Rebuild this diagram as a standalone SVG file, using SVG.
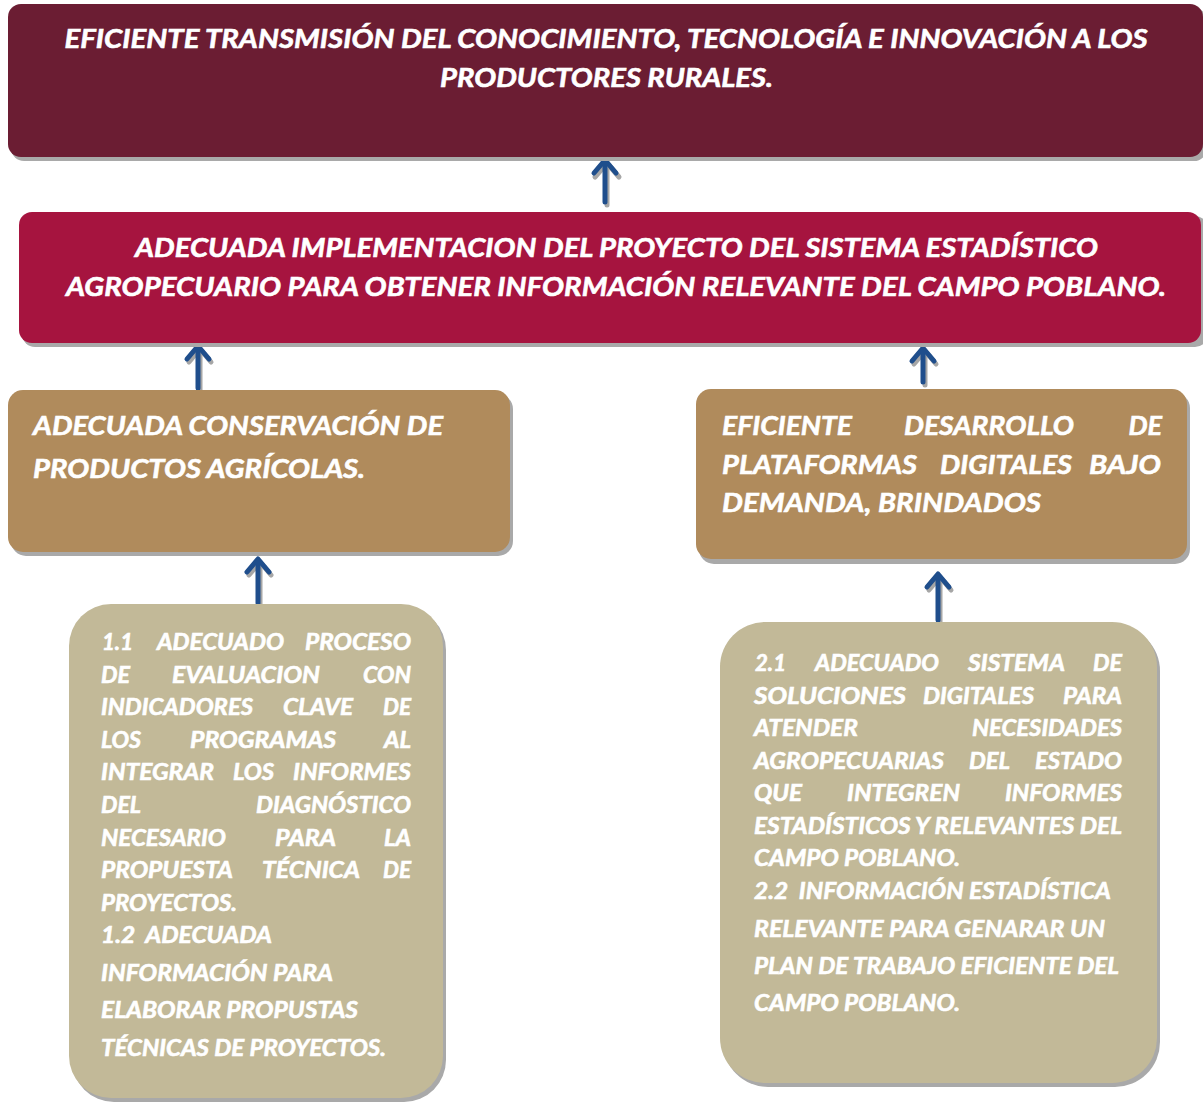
<svg xmlns="http://www.w3.org/2000/svg" width="1203" height="1103" viewBox="0 0 1203 1103">
<style>
text{font-family:Lato,"Open Sans","Liberation Sans",sans-serif;font-weight:bold;font-style:italic;fill:#FFFFFF;stroke:#FFFFFF;stroke-width:0.6px}
.big{font-size:27px}
.sm{font-size:22px}
.shadow{fill:#A9A9A9}
.arrow{fill:none;stroke:#1F4E8C;stroke-width:5;stroke-linecap:round;stroke-linejoin:round}
.arrowsh{fill:none;stroke:#A6A6A6;stroke-width:5;stroke-linecap:round;stroke-linejoin:round}
</style>
<g id="connectors">
<g><polyline class="arrowsh" points="595,177 607,163 619,177"/><line class="arrowsh" x1="607" y1="166" x2="607" y2="205"/>
<polyline class="arrow" points="594,173 605,160 616,173"/><line class="arrow" x1="605" y1="162" x2="605" y2="202"/></g>
<g><polyline class="arrowsh" points="189,362 200,349 211,362"/><line class="arrowsh" x1="200" y1="350" x2="200" y2="390"/>
<polyline class="arrow" points="187,359 198,346 209,359"/><line class="arrow" x1="198" y1="348" x2="198" y2="388"/></g>
<g><polyline class="arrowsh" points="914,364 925,351 936,364"/><line class="arrowsh" x1="925" y1="352" x2="925" y2="385"/>
<polyline class="arrow" points="912,361 923,348 934,361"/><line class="arrow" x1="923" y1="350" x2="923" y2="382"/></g>
<g><polyline class="arrowsh" points="249,575 260,562 271,575"/><line class="arrowsh" x1="260" y1="563" x2="260" y2="604"/>
<polyline class="arrow" points="247,572 258,559 269,572"/><line class="arrow" x1="258" y1="561" x2="258" y2="603"/></g>
<g><polyline class="arrowsh" points="929,590 940,577 951,590"/><line class="arrowsh" x1="940" y1="578" x2="940" y2="622"/>
<polyline class="arrow" points="927,587 938,574 949,587"/><line class="arrow" x1="938" y1="576" x2="938" y2="620"/></g>
</g>
<g id="node-fin">
<rect class="shadow" x="11" y="8" width="1196" height="153" rx="13"/>
<rect x="8" y="4" width="1195" height="153" rx="13" fill="#6B1D33"/>
<text class="big" x="606" y="48" text-anchor="middle" textLength="1083" lengthAdjust="spacingAndGlyphs">EFICIENTE TRANSMISIÓN DEL CONOCIMIENTO, TECNOLOGÍA E INNOVACIÓN A LOS</text>
<text class="big" x="440" y="87" textLength="333" lengthAdjust="spacingAndGlyphs">PRODUCTORES RURALES.</text>
</g>
<g id="node-proposito">
<rect class="shadow" x="22" y="216" width="1186" height="131" rx="13"/>
<rect x="19" y="212" width="1182" height="131" rx="13" fill="#A6143F"/>
<text class="big" x="135" y="257" textLength="963" lengthAdjust="spacingAndGlyphs">ADECUADA IMPLEMENTACION DEL PROYECTO DEL SISTEMA ESTADÍSTICO</text>
<text class="big" x="66" y="296" textLength="1100" lengthAdjust="spacingAndGlyphs">AGROPECUARIO PARA OBTENER INFORMACIÓN RELEVANTE DEL CAMPO POBLANO.</text>
</g>
<g id="node-componente1">
<rect class="shadow" x="11" y="394" width="502" height="162" rx="15"/>
<rect x="8" y="390" width="502" height="162" rx="15" fill="#B08B5C"/>
<text class="big" x="33" y="435" textLength="410" lengthAdjust="spacingAndGlyphs">ADECUADA CONSERVACIÓN DE</text>
<text class="big" x="33" y="478" textLength="332" lengthAdjust="spacingAndGlyphs">PRODUCTOS AGRÍCOLAS.</text>
</g>
<g id="node-componente2">
<rect class="shadow" x="699" y="393" width="491" height="171" rx="15"/>
<rect x="696" y="389" width="491" height="170" rx="15" fill="#B08B5C"/>
<text class="big" x="722" y="435" textLength="130" lengthAdjust="spacingAndGlyphs">EFICIENTE</text>
<text class="big" x="904" y="435" textLength="170" lengthAdjust="spacingAndGlyphs">DESARROLLO</text>
<text class="big" x="1162" y="435" text-anchor="end">DE</text>
<text class="big" x="722" y="474" textLength="195" lengthAdjust="spacingAndGlyphs">PLATAFORMAS</text>
<text class="big" x="940" y="474" textLength="132" lengthAdjust="spacingAndGlyphs">DIGITALES</text>
<text class="big" x="1089" y="474" textLength="72" lengthAdjust="spacingAndGlyphs">BAJO</text>
<text class="big" x="722" y="512" textLength="319" lengthAdjust="spacingAndGlyphs">DEMANDA, BRINDADOS</text>
</g>
<g id="node-actividades1">
<rect class="shadow" x="72" y="608" width="374" height="494" rx="42"/>
<rect x="69" y="604" width="374" height="494" rx="42" fill="#C2B998"/>
<g class="sm">
<text x="102" y="650" textLength="31" lengthAdjust="spacingAndGlyphs">1.1</text>
<text x="157" y="650" textLength="127" lengthAdjust="spacingAndGlyphs">ADECUADO</text>
<text x="305" y="650" textLength="106" lengthAdjust="spacingAndGlyphs">PROCESO</text>
<text x="101" y="683" textLength="29" lengthAdjust="spacingAndGlyphs">DE</text>
<text x="172" y="683" textLength="148" lengthAdjust="spacingAndGlyphs">EVALUACION</text>
<text x="363" y="683" textLength="48" lengthAdjust="spacingAndGlyphs">CON</text>
<text x="101" y="715" textLength="152" lengthAdjust="spacingAndGlyphs">INDICADORES</text>
<text x="283" y="715" textLength="70" lengthAdjust="spacingAndGlyphs">CLAVE</text>
<text x="383" y="715" textLength="28" lengthAdjust="spacingAndGlyphs">DE</text>
<text x="101" y="748" textLength="40" lengthAdjust="spacingAndGlyphs">LOS</text>
<text x="190" y="748" textLength="146" lengthAdjust="spacingAndGlyphs">PROGRAMAS</text>
<text x="384" y="748" textLength="27" lengthAdjust="spacingAndGlyphs">AL</text>
<text x="101" y="780" textLength="113" lengthAdjust="spacingAndGlyphs">INTEGRAR</text>
<text x="233" y="780" textLength="41" lengthAdjust="spacingAndGlyphs">LOS</text>
<text x="293" y="780" textLength="118" lengthAdjust="spacingAndGlyphs">INFORMES</text>
<text x="101" y="813" textLength="40" lengthAdjust="spacingAndGlyphs">DEL</text>
<text x="256" y="813" textLength="155" lengthAdjust="spacingAndGlyphs">DIAGNÓSTICO</text>
<text x="101" y="846" textLength="125" lengthAdjust="spacingAndGlyphs">NECESARIO</text>
<text x="275" y="846" textLength="61" lengthAdjust="spacingAndGlyphs">PARA</text>
<text x="384" y="846" textLength="27" lengthAdjust="spacingAndGlyphs">LA</text>
<text x="101" y="878" textLength="132" lengthAdjust="spacingAndGlyphs">PROPUESTA</text>
<text x="262" y="878" textLength="98" lengthAdjust="spacingAndGlyphs">TÉCNICA</text>
<text x="383" y="878" textLength="28" lengthAdjust="spacingAndGlyphs">DE</text>
<text x="101" y="911" textLength="136" lengthAdjust="spacingAndGlyphs">PROYECTOS.</text>
<text x="101" y="943" textLength="171" lengthAdjust="spacingAndGlyphs" xml:space="preserve">1.2  ADECUADA</text>
<text x="101" y="981" textLength="232" lengthAdjust="spacingAndGlyphs">INFORMACIÓN PARA</text>
<text x="101" y="1018" textLength="257" lengthAdjust="spacingAndGlyphs">ELABORAR PROPUSTAS</text>
<text x="101" y="1056" textLength="285" lengthAdjust="spacingAndGlyphs">TÉCNICAS DE PROYECTOS.</text>
</g>
</g>
<g id="node-actividades2">
<rect class="shadow" x="723" y="626" width="437" height="461" rx="45"/>
<rect x="720" y="622" width="437" height="461" rx="45" fill="#C2B998"/>
<g class="sm">
<text x="755" y="671" textLength="31" lengthAdjust="spacingAndGlyphs">2.1</text>
<text x="815" y="671" textLength="124" lengthAdjust="spacingAndGlyphs">ADECUADO</text>
<text x="968" y="671" textLength="97" lengthAdjust="spacingAndGlyphs">SISTEMA</text>
<text x="1093" y="671" textLength="29" lengthAdjust="spacingAndGlyphs">DE</text>
<text x="754" y="704" textLength="152" lengthAdjust="spacingAndGlyphs">SOLUCIONES</text>
<text x="923" y="704" textLength="111" lengthAdjust="spacingAndGlyphs">DIGITALES</text>
<text x="1063" y="704" textLength="59" lengthAdjust="spacingAndGlyphs">PARA</text>
<text x="754" y="736" textLength="104" lengthAdjust="spacingAndGlyphs">ATENDER</text>
<text x="972" y="736" textLength="150" lengthAdjust="spacingAndGlyphs">NECESIDADES</text>
<text x="754" y="769" textLength="190" lengthAdjust="spacingAndGlyphs">AGROPECUARIAS</text>
<text x="969" y="769" textLength="41" lengthAdjust="spacingAndGlyphs">DEL</text>
<text x="1035" y="769" textLength="87" lengthAdjust="spacingAndGlyphs">ESTADO</text>
<text x="754" y="801" textLength="48" lengthAdjust="spacingAndGlyphs">QUE</text>
<text x="847" y="801" textLength="113" lengthAdjust="spacingAndGlyphs">INTEGREN</text>
<text x="1005" y="801" textLength="117" lengthAdjust="spacingAndGlyphs">INFORMES</text>
<text x="754" y="834" textLength="368" lengthAdjust="spacingAndGlyphs">ESTADÍSTICOS Y RELEVANTES DEL</text>
<text x="754" y="866" textLength="206" lengthAdjust="spacingAndGlyphs">CAMPO POBLANO.</text>
<text x="754" y="899" textLength="357" lengthAdjust="spacingAndGlyphs" xml:space="preserve">2.2  INFORMACIÓN ESTADÍSTICA</text>
<text x="754" y="937" textLength="351" lengthAdjust="spacingAndGlyphs">RELEVANTE PARA GENARAR UN</text>
<text x="754" y="974" textLength="365" lengthAdjust="spacingAndGlyphs">PLAN DE TRABAJO EFICIENTE DEL</text>
<text x="754" y="1011" textLength="206" lengthAdjust="spacingAndGlyphs">CAMPO POBLANO.</text>
</g>
</g>
</svg>
